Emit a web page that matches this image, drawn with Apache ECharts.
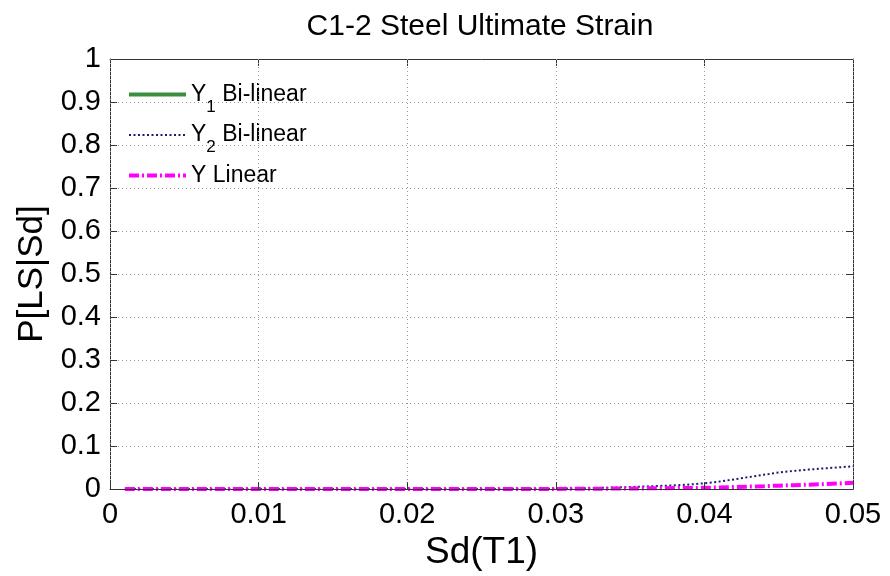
<!DOCTYPE html>
<html><head><meta charset="utf-8">
<script src="https://cdn.jsdelivr.net/npm/echarts@6/dist/echarts.min.js"></script>
<style>html,body{margin:0;padding:0;background:#fff}#c{width:890px;height:576px}</style>
</head><body><div id="c"></div>
<script>
const titleText = 'C1-2 Steel Ultimate Strain';
const xName = 'Sd(T1)';
const yName = 'P[LS|Sd]';
const seriesNames = ['Y1 Bi-linear', 'Y2 Bi-linear', 'Y Linear'];
const xTickLabels = ['0', '0.01', '0.02', '0.03', '0.04', '0.05'];
const yTickLabels = ['0', '0.1', '0.2', '0.3', '0.4', '0.5', '0.6', '0.7', '0.8', '0.9', '1'];

const sd = [0.001,0.002,0.003,0.004,0.005,0.006,0.007,0.008,0.009,0.010,
            0.011,0.012,0.013,0.014,0.015,0.016,0.017,0.018,0.019,0.020,
            0.021,0.022,0.023,0.024,0.025,0.026,0.027,0.028,0.029,0.030,
            0.031,0.032,0.033,0.034,0.035,0.036,0.037,0.038,0.039,0.040,
            0.041,0.042,0.043,0.044,0.045,0.046,0.047,0.048,0.049,0.050];

// Y1 curve is not visible anywhere in the plot (only in the legend)
const y1Bilinear = [null,null,null,null,null,null,null,null,null,null,
                    null,null,null,null,null,null,null,null,null,null,
                    null,null,null,null,null,null,null,null,null,null,
                    null,null,null,null,null,null,null,null,null,null,
                    null,null,null,null,null,null,null,null,null,null];

const y2Bilinear = [0,0,0,0,0,0,0,0,0,0,
                    0,0,0,0,0,0,0,0,0,0,
                    0.0001,0.0002,0.0002,0.0003,0.0004,0.0005,0.0006,0.0007,0.0008,0.001,
                    0.0015,0.002,0.0028,0.0037,0.0048,0.006,0.0073,0.0088,0.0106,0.0135,
                    0.0175,0.0225,0.028,0.0335,0.0385,0.0422,0.0453,0.048,0.0505,0.053];

const yLinear = [0,0,0,0,0,0,0,0,0,0,
                 0,0,0,0,0,0,0,0,0,0,
                 0,0,0,0,0,0.0001,0.0002,0.0003,0.0004,0.0005,
                 0.0006,0.0008,0.001,0.0012,0.0014,0.0017,0.002,0.0023,0.0026,0.003,
                 0.0039,0.0048,0.0058,0.0068,0.008,0.0092,0.0103,0.0116,0.013,0.0145];

const FONT = '"Liberation Sans", Arial, sans-serif';
const pair = (ys) => sd.map((x, i) => [x, ys[i]]);

const styles = [
  {color: '#3a8f3e', width: 4, type: 'solid'},
  {color: '#1c1c6a', width: 2, type: [2, 2.5]},
  {color: '#ff00ff', width: 4, type: [10, 3, 2, 3]}
];

const chart = echarts.init(document.getElementById('c'), null, {renderer: 'canvas'});

const baseAxisLine = {show: true, onZero: false, lineStyle: {color: '#333', width: 1}};
const innerTick = {show: true, inside: true, length: 7, lineStyle: {color: '#333', width: 1}};

chart.setOption({
  animation: false,
  backgroundColor: '#fff',
  title: {
    text: titleText,
    left: 475, textAlign: 'center', top: 7,
    textStyle: {fontFamily: FONT, fontSize: 30, fontWeight: 'normal', color: '#000'}
  },
  grid: {left: 110, right: 37, top: 59, bottom: 86, containLabel: false},
  legend: {
    orient: 'vertical', left: 122, top: 78,
    itemWidth: 57, itemHeight: 14, itemGap: 8,
    itemStyle: {opacity: 0},
    data: seriesNames.map((n, i) => ({name: n, lineStyle: {width: styles[i].width, type: styles[i].type, color: styles[i].color}})),
    formatter: function (name) {
      const m = name.match(/^Y(\d?)(.*)$/);
      if (m && m[1]) return '{m|Y}{s|' + m[1] + '}{m|' + m[2] + '}';
      return '{m|' + name + '}{s| }';
    },
    textStyle: {
      fontFamily: FONT, color: '#000', fontSize: 23,
      rich: {
        m: {fontFamily: FONT, fontSize: 23, lineHeight: 42, color: '#000'},
        s: {fontFamily: FONT, fontSize: 17, lineHeight: 17, color: '#000', verticalAlign: 'bottom'}
      }
    }
  },
  xAxis: [{
    type: 'value', position: 'bottom', min: 0, max: 0.05, interval: 0.01, z: 5,
    name: xName, nameLocation: 'middle', nameGap: 32,
    nameTextStyle: {fontFamily: FONT, fontSize: 37, color: '#000'},
    axisLine: baseAxisLine, axisTick: innerTick,
    axisLabel: {fontFamily: FONT, fontSize: 29, color: '#000', margin: 11,
      formatter: (v, i) => xTickLabels[i]},
    splitLine: {show: true, lineStyle: {color: '#9a9a9a', type: [1, 3], width: 1}}
  }, {
    type: 'value', position: 'top', min: 0, max: 0.05, interval: 0.01,
    axisLine: baseAxisLine, axisTick: innerTick,
    axisLabel: {show: false}, splitLine: {show: false}
  }],
  yAxis: [{
    type: 'value', position: 'left', min: 0, max: 1, interval: 0.1,
    name: yName, nameLocation: 'middle', nameGap: 58,
    nameTextStyle: {fontFamily: FONT, fontSize: 35, color: '#000'},
    axisLine: baseAxisLine, axisTick: innerTick,
    axisLabel: {fontFamily: FONT, fontSize: 29, color: '#000', margin: 9,
      formatter: (v, i) => yTickLabels[i]},
    splitLine: {show: true, lineStyle: {color: '#9a9a9a', type: [1, 3], width: 1}}
  }, {
    type: 'value', position: 'right', min: 0, max: 1, interval: 0.1,
    axisLine: baseAxisLine, axisTick: innerTick,
    axisLabel: {show: false}, splitLine: {show: false}
  }],
  series: seriesNames.map((n, i) => ({
    name: n, type: 'line', symbol: 'none', connectNulls: false,
    data: pair([y1Bilinear, y2Bilinear, yLinear][i]),
    lineStyle: {color: styles[i].color, width: styles[i].width, type: styles[i].type},
    itemStyle: {color: styles[i].color}
  }))
});
</script></body></html>
